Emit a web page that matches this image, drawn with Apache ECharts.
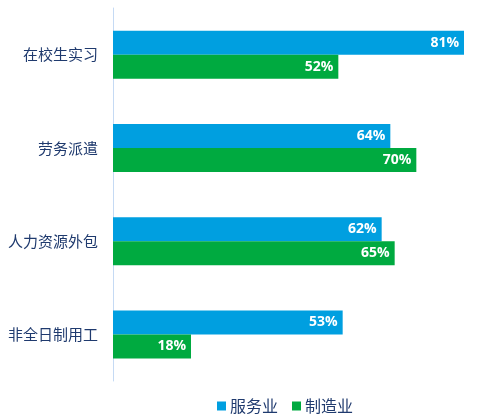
<!DOCTYPE html>
<html>
<head>
<meta charset="utf-8">
<script src="https://cdn.jsdelivr.net/npm/echarts@6/dist/echarts.min.js"></script>
<style>
html,body{margin:0;padding:0;background:#fff;}
#main{width:485px;height:420px;}
</style>
</head>
<body>
<div id="main"></div>
<script>
// 类别（从上到下）
var categories = ['在校生实习', '劳务派遣', '人力资源外包', '非全日制用工'];
// 服务业
var serviceData = [81, 64, 62, 53];
// 制造业
var manufactData = [52, 70, 65, 18];

var myChart = echarts.init(document.getElementById('main'));
var labelStyle = {
    show: true,
    position: 'insideRight',
    color: '#fff',
    fontWeight: 'bold',
    fontSize: 14,
    fontFamily: 'Open Sans',
    distance: 5,
    formatter: '{c}%'
};
var option = {
    animation: false,
    legend: {
        data: ['服务业', '制造业'],
        bottom: 1,
        left: 212,
        itemWidth: 9,
        itemHeight: 9,
        itemGap: 14,
        icon: 'rect',
        textStyle: {color: '#1f3a6e', fontSize: 16, fontFamily: 'Noto Sans CJK SC', padding: [0, 0, 0, -1]}
    },
    grid: {left: 113, right: 21, top: 8, bottom: 39},
    xAxis: {
        type: 'value',
        min: 0,
        max: 81,
        show: false
    },
    yAxis: {
        type: 'category',
        inverse: true,
        data: categories,
        axisTick: {show: false},
        axisLine: {lineStyle: {color: '#c5daf4', width: 1}},
        axisLabel: {color: '#1f3a6e', fontSize: 15, margin: 15, fontFamily: 'Noto Sans CJK SC'}
    },
    series: [
        {
            name: '服务业',
            type: 'bar',
            data: serviceData,
            barWidth: 24,
            barGap: '0%',
            itemStyle: {color: '#009fe0'},
            label: labelStyle
        },
        {
            name: '制造业',
            type: 'bar',
            data: manufactData,
            barWidth: 24,
            barGap: '0%',
            itemStyle: {color: '#00aa40'},
            label: labelStyle
        }
    ]
};
myChart.setOption(option);
</script>
</body>
</html>
